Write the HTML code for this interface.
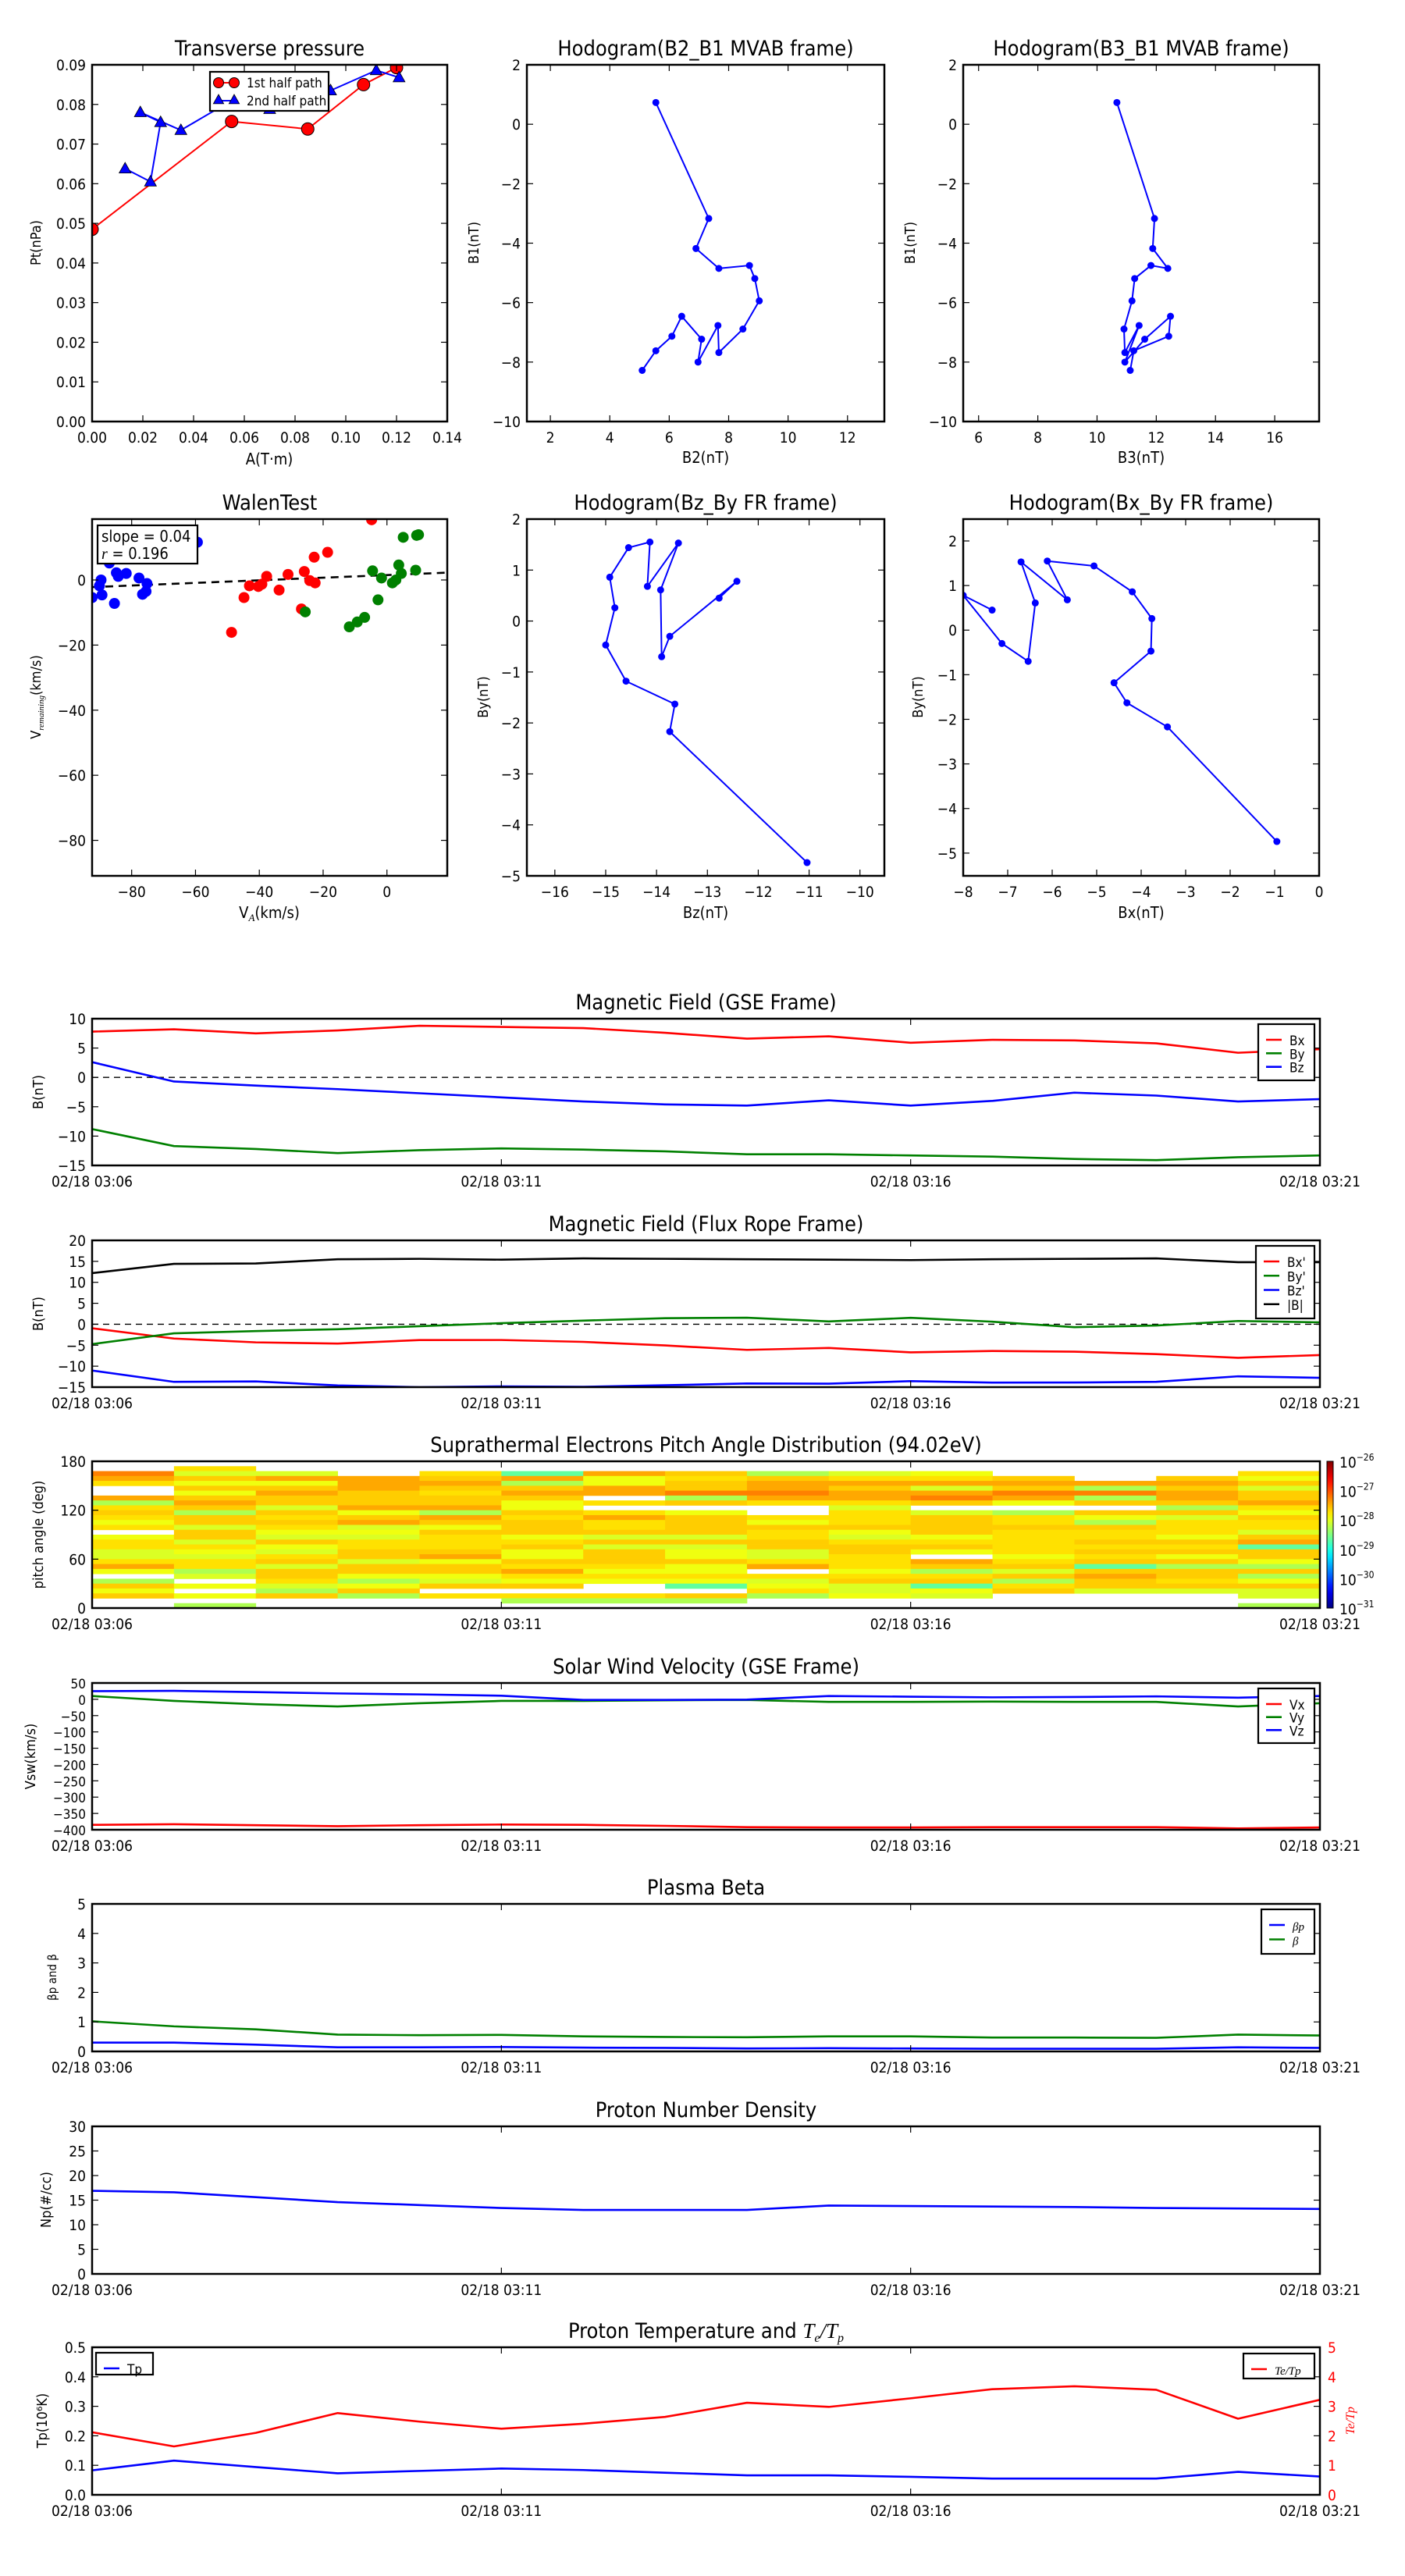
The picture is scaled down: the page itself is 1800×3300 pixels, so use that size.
<!DOCTYPE html>
<html><head><meta charset="utf-8"><title>Flux rope analysis</title>
<style>
html,body{margin:0;padding:0;background:#fff;}
svg{display:block;font-family:"Liberation Sans Narrow","DejaVu Sans Condensed","Liberation Sans",sans-serif;font-stretch:condensed;}
</style></head>
<body>
<svg id="chart" width="1800" height="3300" viewBox="0 0 1800 3300" xmlns="http://www.w3.org/2000/svg">
<rect x="0" y="0" width="1800" height="3300" fill="#fff"/>
</svg>
<script>
// ---------------- DATA ----------------
const timeMin = [0,1,2,3,4,5,6,7,8,9,10,11,12,13,14,15];
const timeTickVals = [0,5,10,15];
const timeTickLabels = ["02/18 03:06","02/18 03:11","02/18 03:16","02/18 03:21"];

const gseBx = [7.8,8.2,7.5,8.0,8.8,8.6,8.4,7.6,6.6,7.0,5.9,6.4,6.3,5.8,4.2,4.8];
const gseBy = [-8.8,-11.7,-12.2,-12.9,-12.4,-12.1,-12.3,-12.6,-13.1,-13.1,-13.3,-13.5,-13.9,-14.1,-13.6,-13.3];
const gseBz = [2.6,-0.7,-1.4,-2.0,-2.7,-3.4,-4.1,-4.6,-4.8,-3.9,-4.8,-4.0,-2.6,-3.1,-4.1,-3.7];

const frBx = [-0.95,-3.41,-4.32,-4.61,-3.78,-3.76,-4.2,-5.06,-6.11,-5.66,-6.7,-6.38,-6.54,-7.13,-8.0,-7.35];
const frBy = [-4.74,-2.17,-1.63,-1.18,-0.47,0.26,0.86,1.44,1.55,0.68,1.53,0.61,-0.7,-0.3,0.78,0.45];
const frBz = [-11.04,-13.74,-13.64,-14.6,-15.0,-14.82,-14.92,-14.55,-14.13,-14.18,-13.57,-13.92,-13.9,-13.74,-12.42,-12.77];
const frBt = [12.2,14.4,14.5,15.5,15.6,15.4,15.7,15.6,15.5,15.4,15.3,15.5,15.6,15.7,14.8,14.8];

const mvB1 = [0.73,-3.17,-4.18,-4.85,-4.75,-5.19,-5.94,-6.89,-7.68,-6.77,-8.0,-7.23,-6.46,-7.13,-7.62,-8.28];
const mvB2 = [5.55,7.33,6.9,7.67,8.7,8.88,9.03,8.48,7.67,7.64,6.97,7.09,6.42,6.09,5.55,5.09];
const mvB3 = [10.67,11.94,11.88,12.39,11.82,11.27,11.18,10.91,10.94,11.42,10.94,11.61,12.48,12.42,11.24,11.12];

const ptRedA = [0,0.055,0.085,0.107,0.12];
const ptRedP = [0.0485,0.0757,0.0738,0.085,0.0893];
const ptBlueA = [0.121,0.112,0.094,0.07,0.055,0.035,0.019,0.027,0.023,0.013];
const ptBlueP = [0.0868,0.0886,0.0835,0.0788,0.081,0.0735,0.078,0.0755,0.0605,0.0638];

const walenBlueX = [-92.4,-90.1,-89.6,-89.3,-87,-85.4,-84.8,-84.2,-81.7,-77.7,-76.6,-75.5,-75.2,-59.4];
const walenBlueY = [-5.4,-1.8,0,-4.6,5.2,-7.2,2.2,1.1,2,0.6,-4.4,-3.5,-1.1,11.6];
const walenRedX = [-4.8,-48.7,-44.8,-43.1,-40.3,-39.2,-37.7,-33.8,-31,-26.8,-25.9,-24.2,-22.8,-22.5,-18.6];
const walenRedY = [18.5,-16.1,-5.4,-1.8,-2,-1.3,1.1,-3.1,1.7,-8.9,2.6,-0.2,7,-0.9,8.5];
const walenGreenX = [-25.6,-11.8,-9.3,-7,-4.5,-2.8,-1.7,1.7,2.8,3.7,4.5,5.1,9,9.3,9.9];
const walenGreenY = [-9.8,-14.4,-12.9,-11.5,2.8,-6.1,0.6,-0.9,0,4.6,2,13.1,3,13.7,13.9];
const walenSlope = 0.04;
const walenIntercept = 1.5;

const swVx = [-385,-383,-386,-389,-386,-384,-385,-388,-392,-393,-393,-392,-392,-392,-396,-393];
const swVy = [10,-5,-15,-22,-12,-5,-5,-3,-2,-8,-8,-7,-8,-8,-22,-12];
const swVz = [25,26,22,18,15,11,-2,-2,-1,10,8,6,7,9,5,10];

const betaP = [0.30,0.30,0.23,0.14,0.14,0.15,0.13,0.12,0.10,0.11,0.10,0.09,0.09,0.09,0.14,0.12];
const betaT = [1.02,0.85,0.75,0.57,0.55,0.56,0.51,0.49,0.48,0.51,0.51,0.47,0.47,0.46,0.57,0.54];
const densNp = [16.9,16.6,15.6,14.6,14.0,13.4,13.0,13.0,13.0,13.9,13.8,13.7,13.6,13.4,13.3,13.2];
const tempTp = [0.083,0.116,0.094,0.073,0.081,0.089,0.084,0.075,0.066,0.066,0.061,0.055,0.055,0.055,0.078,0.062];
const tempRatio = [2.12,1.64,2.10,2.77,2.48,2.24,2.41,2.64,3.12,2.98,3.27,3.58,3.68,3.56,2.58,3.22];

// pitch angle distribution: log10 values, rows from 174-180 deg (top) down to 0-6 deg, 15 one-minute columns
const padLog = [
[null,null,null,null,null,null,null,null,null,null,null,null,null,null,null],
[null,-27.73,null,null,null,null,null,null,null,null,null,null,null,null,null],
[-27.25,-28.05,-28.05,null,-27.73,-28.65,-27.45,-27.63,-28.27,-28.05,-27.95,null,null,null,-27.73],
[-27.45,-27.63,-27.45,-27.45,-27.63,-27.45,-27.95,-27.73,-27.63,-27.73,-27.73,-27.63,null,-27.63,-27.95],
[-27.73,-27.95,-27.95,-27.45,-27.45,-28.27,-27.95,-27.63,-27.45,-27.45,-27.45,-27.45,-27.45,-27.45,-27.63],
[null,-27.63,-27.63,-27.45,-27.63,-27.63,-27.45,-27.63,-27.45,-27.63,-28.05,-27.63,-28.27,-27.63,-28.05],
[null,-27.95,-27.45,-27.63,-27.73,-27.45,-27.45,-27.25,-27.25,-27.45,-27.45,-27.25,-27.25,-27.45,-27.63],
[-27.45,-27.63,-27.63,-27.63,-27.63,-27.63,null,-28.27,-27.45,-27.45,-27.25,-27.45,-28.27,-27.45,-27.63],
[-28.27,-27.45,-27.63,-27.63,-27.63,-27.95,-27.73,-27.63,-27.73,-27.73,-27.63,-27.95,-27.63,-27.63,-27.45],
[-27.73,-27.63,-28.05,-27.45,-27.45,-27.95,null,null,null,-28.05,null,null,null,-28.27,-27.73],
[-27.63,-28.27,-27.63,-27.95,-28.27,-27.63,-27.73,-27.95,null,-27.73,-28.05,-28.27,-27.63,-27.63,-27.95],
[-27.73,-27.63,-27.73,-27.63,-27.45,-27.73,-27.45,-27.63,-27.73,-27.73,-27.63,-27.73,-27.95,-28.05,-27.63],
[-27.95,-27.63,-27.63,-27.45,-27.63,-27.63,-27.73,-27.63,-27.95,-27.73,-27.63,-27.73,-28.27,-27.73,-27.73],
[-27.73,-28.05,-27.73,-28.05,-27.95,-27.63,-27.73,-27.63,-27.63,-27.63,-27.63,-27.63,-27.63,-27.73,-27.73],
[null,-27.63,-27.95,-27.95,-27.63,-27.63,-27.63,-27.63,-27.73,-27.95,-27.63,-27.73,-27.73,-27.73,-28.05],
[-27.95,-27.63,-28.05,-28.05,-27.73,-27.95,-28.05,-28.05,-27.73,-28.05,-27.95,-27.73,-27.73,-27.95,-27.63],
[-27.73,-28.05,-27.63,-27.73,-27.73,-27.73,-27.63,-27.63,-27.63,-27.73,-27.73,-27.73,-27.63,-27.63,-27.45],
[-27.73,-27.73,-27.95,-27.73,-27.73,-27.63,-28.05,-28.05,-27.63,-27.63,-27.63,-27.73,-27.73,-27.73,-28.65],
[-28.05,-27.95,-28.05,-27.63,-27.63,-27.95,-27.63,-27.95,-28.05,-27.63,-27.95,-27.73,-27.63,-27.63,-27.63],
[-28.05,-28.05,-27.73,-27.63,-27.45,-27.95,-27.63,-27.95,-28.05,-27.73,null,-27.95,-27.73,-27.95,-27.63],
[-27.73,-27.73,-27.63,-28.05,-27.95,-27.63,-27.63,-27.63,-27.73,-27.73,-27.45,-27.73,-27.63,-27.63,-27.95],
[-27.45,-27.73,-28.05,-27.63,-27.63,-27.73,-27.73,-27.95,-27.45,-27.73,-27.63,-27.63,-28.65,-28.27,-28.27],
[-27.95,-28.27,-27.63,-27.63,-27.63,-27.45,-27.95,-27.95,null,-27.95,-28.27,-28.05,-27.63,-27.63,-27.63],
[null,-28.05,-27.63,-27.95,-27.95,-27.73,-27.73,-27.73,-27.73,-27.73,-27.73,-27.63,-27.45,-27.63,-28.27],
[-28.27,null,-27.73,-28.27,-28.05,-27.95,-27.95,-27.95,-28.05,-27.63,-27.63,-28.27,-27.63,-27.73,-27.95],
[-27.63,-27.95,-28.05,-27.95,-27.63,-27.63,null,-28.65,-27.95,-28.05,-28.65,-27.73,-27.63,-27.63,-27.63],
[-27.95,null,-28.27,-27.63,null,null,null,null,-27.73,-28.05,-27.95,-27.63,-28.05,-28.05,-28.05],
[-27.63,-27.95,-27.63,-28.27,-27.73,-27.73,-27.73,-27.63,-28.27,-27.95,-28.05,null,null,null,-28.05],
[null,null,null,null,null,-28.27,-28.27,-28.27,null,null,null,null,null,null,null],
[null,-28.27,null,null,null,null,null,null,null,null,null,null,null,null,-28.27]
];
const padTickVals = [0,60,120,180];
const cbarExp = [-31,-30,-29,-28,-27,-26];

// ---------------- HELPERS ----------------
const NS = 'http://www.w3.org/2000/svg';
const svg = document.getElementById('chart');
function mk(tag, attrs, parent){
  const e = document.createElementNS(NS, tag);
  for (const k in attrs) e.setAttribute(k, attrs[k]);
  (parent || svg).appendChild(e);
  return e;
}
function nm(e, name, inter){
  
  
  return e;
}
function txt(x, y, s, size, anchor, parent, extra){
  const t = mk('text', Object.assign({x:x, y:y, 'font-size':size, 'text-anchor':anchor||'middle', fill:'#000'}, extra||{}), parent);
  t.textContent = s;
  return t;
}
let clipId = 0;
function axes(name, L, R, T, B, xmin, xmax, ymin, ymax){
  const g = mk('g', {});
  nm(g, name, false);
  const sx = v => L + (v - xmin) / (xmax - xmin) * (R - L);
  const sy = v => B - (v - ymin) / (ymax - ymin) * (B - T);
  const id = 'clip' + (clipId++);
  const cp = mk('clipPath', {id:id}, g);
  mk('rect', {x:L, y:T, width:R-L, height:B-T}, cp);
  const plot = mk('g', {'clip-path':'url(#'+id+')'}, g);
  nm(plot, name + '-plot-area', false);
  return {g, plot, sx, sy, L, R, T, B};
}
function frame(a){
  const f = mk('rect', {x:a.L, y:a.T, width:a.R-a.L, height:a.B-a.T, fill:'none', stroke:'#000', 'stroke-width':2.5}, a.g);
  nm(f, 'axes-frame', false);
}
function xTicks(a, vals, labels, size){
  const g = mk('g', {}, a.g);
  nm(g, 'x-axis', false);
  vals.forEach((v, i) => {
    const x = a.sx(v);
    mk('line', {x1:x, x2:x, y1:a.B, y2:a.B-8, stroke:'#000', 'stroke-width':1.2}, g);
    mk('line', {x1:x, x2:x, y1:a.T, y2:a.T+8, stroke:'#000', 'stroke-width':1.2}, g);
    const t = txt(x, a.B + 27, labels[i], size || 19, 'middle', g);
    nm(t, 'x-tick-label', false);
  });
}
function yTicks(a, vals, labels, size, color, rightSide){
  const g = mk('g', {}, a.g);
  nm(g, rightSide ? 'right-y-axis' : 'y-axis', false);
  vals.forEach((v, i) => {
    const y = a.sy(v);
    if (!rightSide){
      mk('line', {x1:a.L, x2:a.L+8, y1:y, y2:y, stroke:'#000', 'stroke-width':1.2}, g);
      mk('line', {x1:a.R, x2:a.R-8, y1:y, y2:y, stroke:'#000', 'stroke-width':1.2}, g);
      if (labels[i] !== '') { const t = txt(a.L - 8, y + 7, labels[i], size || 19, 'end', g); nm(t, 'y-tick-label', false); }
    } else {
      const t = txt(a.R + 10, y + 7, labels[i], size || 19, 'start', g, {fill:color});
      nm(t, 'right-y-tick-label', false);
    }
  });
}
function title(a, s, name){
  const t = txt((a.L + a.R) / 2, a.T - 12, s, 27, 'middle', a.g);
  nm(t, name || 'chart-title', false);
  return t;
}
function ylabel(x, y, s, name, parent, size){
  const t = txt(x, y, s, size || 18, 'middle', parent, {transform:'rotate(-90 '+x+' '+y+')', 'font-family':'"DejaVu Sans","Liberation Sans",sans-serif'});
  nm(t, name, false);
  return t;
}
function line(a, xs, ys, color, name, w){
  const d = xs.map((x, i) => (i ? 'L' : 'M') + a.sx(x).toFixed(2) + ' ' + a.sy(ys[i]).toFixed(2)).join(' ');
  const p = mk('path', {d:d, fill:'none', stroke:color, 'stroke-width':w || 2.6, 'stroke-linejoin':'round'}, a.plot);
  nm(p, name, false);
  return p;
}
function dots(a, xs, ys, color, r, name){
  xs.forEach((x, i) => {
    const c = mk('circle', {cx:a.sx(x), cy:a.sy(ys[i]), r:r, fill:color, stroke:color === '#0000ff' && r < 6 ? 'none' : '#000', 'stroke-width': r < 6 ? 0 : 0.8}, a.plot);
    nm(c, name, false);
  });
}
function tri(a, x, y, s, color, parent){
  const cx = a ? a.sx(x) : x, cy = a ? a.sy(y) : y;
  const p = mk('polygon', {points:(cx)+','+(cy-s)+' '+(cx-s*0.95)+','+(cy+s*0.7)+' '+(cx+s*0.95)+','+(cy+s*0.7), fill:color, stroke:'#000', 'stroke-width':0.8}, parent || a.plot);
  return p;
}
function legend(x, y, w, h, items, name, parent){
  const g = mk('g', {}, parent);
  nm(g, name, false);
  const r = mk('rect', {x:x, y:y, width:w, height:h, fill:'#fff', stroke:'#000', 'stroke-width':2.2}, g);
  nm(r, name + '-box', false);
  return g;
}
function range(a, b, s){ const o = []; for (let v = a; v <= b + 1e-9; v += s) o.push(+v.toFixed(6)); return o; }

// ---------------- TOP ROW ----------------
// Transverse pressure
{
  const a = axes('transverse-pressure-chart', 118, 573, 83, 540, 0, 0.14, 0, 0.09);
  title(a, 'Transverse pressure', 'transverse-pressure-title');
  const xv = range(0, 0.14, 0.02); xTicks(a, xv, xv.map(v => v.toFixed(2)));
  const yv = range(0, 0.09, 0.01); yTicks(a, yv, yv.map(v => v.toFixed(2)));
  line(a, ptRedA, ptRedP, '#ff0000', 'first-half-path-line', 2);
  line(a, ptBlueA, ptBlueP, '#0000ff', 'second-half-path-line', 2);
  ptRedA.forEach((v, i) => { const c = mk('circle', {cx:a.sx(v), cy:a.sy(ptRedP[i]), r:8, fill:'#ff0000', stroke:'#000', 'stroke-width':1}, a.plot); nm(c, 'first-half-point', false); });
  ptBlueA.forEach((v, i) => { const p = tri(a, v, ptBlueP[i], 8, '#0000ff'); nm(p, 'second-half-point', false); });
  const lg = legend(269, 92, 152, 50, [], 'pressure-legend', a.g);
  mk('line', {x1:280, x2:300, y1:106, y2:106, stroke:'#ff0000', 'stroke-width':2}, lg);
  mk('circle', {cx:280, cy:106, r:6.5, fill:'#ff0000', stroke:'#000'}, lg);
  mk('circle', {cx:300, cy:106, r:6.5, fill:'#ff0000', stroke:'#000'}, lg);
  nm(txt(316, 112, '1st half path', 17, 'start', lg), 'legend-entry-1st-half', false);
  mk('line', {x1:280, x2:300, y1:129, y2:129, stroke:'#0000ff', 'stroke-width':2}, lg);
  tri(null, 280, 128, 7, '#0000ff', lg); tri(null, 300, 128, 7, '#0000ff', lg);
  nm(txt(316, 135, '2nd half path', 17, 'start', lg), 'legend-entry-2nd-half', false);
  frame(a);
  nm(txt(345, 595, 'A(T·m)', 20, 'middle', a.g), 'x-axis-title', false);
  ylabel(52, 311, 'Pt(nPa)', 'y-axis-title', a.g);
}
// Hodogram B2-B1
{
  const a = axes('hodogram-b2-b1-chart', 675, 1133, 83, 540, 1.21, 13.24, -10, 2);
  title(a, 'Hodogram(B2_B1 MVAB frame)', 'hodogram-b2-b1-title');
  const xv = range(2, 12, 2); xTicks(a, xv, xv.map(String));
  const yv = range(-10, 2, 2); yTicks(a, yv, yv.map(v => v < 0 ? '\u2212' + (-v) : String(v)));
  line(a, mvB2, mvB1, '#0000ff', 'hodogram-b2-b1-line', 2);
  dots(a, mvB2, mvB1, '#0000ff', 4.5, 'hodogram-b2-b1-point');
  frame(a);
  nm(txt(904, 593, 'B2(nT)', 20, 'middle', a.g), 'x-axis-title', false);
  ylabel(613, 311, 'B1(nT)', 'y-axis-title', a.g);
}
// Hodogram B3-B1
{
  const a = axes('hodogram-b3-b1-chart', 1234, 1690, 83, 540, 5.48, 17.5, -10, 2);
  title(a, 'Hodogram(B3_B1 MVAB frame)', 'hodogram-b3-b1-title');
  const xv = range(6, 16, 2); xTicks(a, xv, xv.map(String));
  const yv = range(-10, 2, 2); yTicks(a, yv, yv.map(v => v < 0 ? '\u2212' + (-v) : String(v)));
  line(a, mvB3, mvB1, '#0000ff', 'hodogram-b3-b1-line', 2);
  dots(a, mvB3, mvB1, '#0000ff', 4.5, 'hodogram-b3-b1-point');
  frame(a);
  nm(txt(1462, 593, 'B3(nT)', 20, 'middle', a.g), 'x-axis-title', false);
  ylabel(1172, 311, 'B1(nT)', 'y-axis-title', a.g);
}
// ---------------- SECOND ROW ----------------
// Walen test
{
  const a = axes('walen-test-chart', 118, 573, 665, 1122, -92.4, 18.9, -90.9, 18.7);
  title(a, 'WalenTest', 'walen-test-title');
  const xv = range(-80, 0, 20); xTicks(a, xv, xv.map(v => v < 0 ? '\u2212' + (-v) : String(v)));
  const yv = range(-80, 0, 20); yTicks(a, yv, yv.map(v => v < 0 ? '\u2212' + (-v) : String(v)));
  const fx = [-92.4, 18.9];
  const fl = mk('line', {x1:a.sx(fx[0]), y1:a.sy(walenSlope*fx[0]+walenIntercept), x2:a.sx(fx[1]), y2:a.sy(walenSlope*fx[1]+walenIntercept), stroke:'#000', 'stroke-width':2.6, 'stroke-dasharray':'10,7'}, a.plot);
  nm(fl, 'regression-line', false);
  const pts = (xs, ys, c, n) => xs.forEach((x, i) => { const e = mk('circle', {cx:a.sx(x), cy:a.sy(ys[i]), r:7, fill:c, stroke:'none'}, a.plot); nm(e, n, false); });
  pts(walenBlueX, walenBlueY, '#0000ff', 'walen-point-blue');
  pts(walenRedX, walenRedY, '#ff0000', 'walen-point-red');
  pts(walenGreenX, walenGreenY, '#008000', 'walen-point-green');
  const lg = legend(125, 673, 128, 49, [], 'walen-stats-box', a.g);
  nm(txt(130, 694, 'slope = 0.04', 20, 'start', lg), 'slope-text', false);
  const rt = txt(130, 716, '', 20, 'start', lg); nm(rt, 'correlation-text', false);
  const ri = mk('tspan', {'font-style':'italic', 'font-family':'"Liberation Serif",serif'}, rt); ri.textContent = 'r';
  const rr = mk('tspan', {}, rt); rr.textContent = ' = 0.196';
  frame(a);
  const xl = txt(345, 1176, 'V', 20, 'middle', a.g); nm(xl, 'x-axis-title', false);
  const s1 = mk('tspan', {'font-size':13, dy:4, 'font-style':'italic', 'font-family':'"Liberation Serif",serif'}, xl); s1.textContent = 'A';
  const s2 = mk('tspan', {dy:-4}, xl); s2.textContent = '(km/s)';
  const yl = ylabel(52, 893, '', 'y-axis-title', a.g);
  const y1 = mk('tspan', {}, yl); y1.textContent = 'V';
  const y2 = mk('tspan', {'font-size':11, dy:4, 'font-style':'italic', 'font-family':'"Liberation Serif",serif'}, yl); y2.textContent = 'remaining';
  const y3 = mk('tspan', {dy:-4}, yl); y3.textContent = '(km/s)';
}
// Hodogram Bz-By FR
{
  const a = axes('hodogram-bz-by-chart', 675, 1133, 665, 1122, -16.55, -9.52, -5, 2);
  title(a, 'Hodogram(Bz_By FR frame)', 'hodogram-bz-by-title');
  const xv = range(-16, -10, 1); xTicks(a, xv, xv.map(v => '\u2212' + (-v)));
  const yv = range(-5, 2, 1); yTicks(a, yv, yv.map(v => v < 0 ? '\u2212' + (-v) : String(v)));
  line(a, frBz, frBy, '#0000ff', 'hodogram-bz-by-line', 2);
  dots(a, frBz, frBy, '#0000ff', 4.5, 'hodogram-bz-by-point');
  frame(a);
  nm(txt(904, 1176, 'Bz(nT)', 20, 'middle', a.g), 'x-axis-title', false);
  ylabel(625, 893, 'By(nT)', 'y-axis-title', a.g);
}
// Hodogram Bx-By FR
{
  const a = axes('hodogram-bx-by-chart', 1234, 1690, 665, 1122, -8, 0, -5.51, 2.49);
  title(a, 'Hodogram(Bx_By FR frame)', 'hodogram-bx-by-title');
  const xv = range(-8, 0, 1); xTicks(a, xv, xv.map(v => v < 0 ? '\u2212' + (-v) : String(v)));
  const yv = range(-5, 2, 1); yTicks(a, yv, yv.map(v => v < 0 ? '\u2212' + (-v) : String(v)));
  line(a, frBx, frBy, '#0000ff', 'hodogram-bx-by-line', 2);
  dots(a, frBx, frBy, '#0000ff', 4.5, 'hodogram-bx-by-point');
  frame(a);
  nm(txt(1462, 1176, 'Bx(nT)', 20, 'middle', a.g), 'x-axis-title', false);
  ylabel(1182, 893, 'By(nT)', 'y-axis-title', a.g);
}

// ---------------- TIME SERIES ----------------
const TL = 118, TR = 1691;
const minusLbl = v => v < 0 ? '\u2212' + (-v) : String(v);
function tsLegend(a, x, y, w, h, items, name){
  const lg = legend(x, y, w, h, [], name, a.g);
  items.forEach((it, i) => {
    const yy = y + 20 + i * (h - 20) / items.length;
    mk('line', {x1:x + 10, x2:x + 30, y1:yy, y2:yy, stroke:it[1], 'stroke-width':2.6}, lg);
    const t = txt(x + 40, yy + 7, it[0], 17, 'start', lg, it[2] ? {'font-style':'italic', 'font-family':'"Liberation Serif",serif', 'font-size':15} : {});
    nm(t, 'legend-entry', false);
  });
  return lg;
}
function zeroLine(a){
  const z = mk('line', {x1:a.L, x2:a.R, y1:a.sy(0), y2:a.sy(0), stroke:'#000', 'stroke-width':1.3, 'stroke-dasharray':'8,6'}, a.plot);
  nm(z, 'zero-reference-line', false);
}
// GSE
{
  const a = axes('magnetic-field-gse-chart', TL, TR, 1305, 1493, 0, 15, -15, 10);
  title(a, 'Magnetic Field (GSE Frame)', 'magnetic-field-gse-title');
  xTicks(a, timeTickVals, timeTickLabels);
  const yv = range(-15, 10, 5); yTicks(a, yv, yv.map(minusLbl));
  zeroLine(a);
  line(a, timeMin, gseBx, '#ff0000', 'bx-line');
  line(a, timeMin, gseBy, '#008000', 'by-line');
  line(a, timeMin, gseBz, '#0000ff', 'bz-line');
  tsLegend(a, 1612, 1312, 72, 72, [['Bx','#ff0000'],['By','#008000'],['Bz','#0000ff']], 'gse-legend');
  frame(a);
  ylabel(55, 1399, 'B(nT)', 'y-axis-title', a.g);
}
// Flux rope
{
  const a = axes('magnetic-field-flux-rope-chart', TL, TR, 1589, 1777, 0, 15, -15, 20);
  title(a, 'Magnetic Field (Flux Rope Frame)', 'magnetic-field-flux-rope-title');
  xTicks(a, timeTickVals, timeTickLabels);
  const yv = range(-15, 20, 5); yTicks(a, yv, yv.map(minusLbl));
  zeroLine(a);
  line(a, timeMin, frBx, '#ff0000', 'bx-prime-line');
  line(a, timeMin, frBy, '#008000', 'by-prime-line');
  line(a, timeMin, frBz, '#0000ff', 'bz-prime-line');
  line(a, timeMin, frBt, '#000000', 'b-total-line');
  tsLegend(a, 1609, 1596, 75, 93, [["Bx'",'#ff0000'],["By'",'#008000'],["Bz'",'#0000ff'],['|B|','#000000']], 'flux-rope-legend');
  frame(a);
  ylabel(55, 1683, 'B(nT)', 'y-axis-title', a.g);
}
// PAD heatmap
function jet(t){
  const c = v => Math.max(0, Math.min(1, v));
  const r = c(1.5 - Math.abs(4 * t - 3)), g = c(1.5 - Math.abs(4 * t - 2)), b = c(1.5 - Math.abs(4 * t - 1));
  return 'rgb(' + Math.round(r * 255) + ',' + Math.round(g * 255) + ',' + Math.round(b * 255) + ')';
}
{
  const a = axes('pitch-angle-distribution-chart', TL, TR, 1872, 2060, 0, 15, 0, 180);
  title(a, 'Suprathermal Electrons Pitch Angle Distribution (94.02eV)', 'pitch-angle-title');
  const nRows = padLog.length, bin = 180 / nRows;
  padLog.forEach((row, r) => {
    const hi = 180 - r * bin, lo = hi - bin;
    row.forEach((v, c) => {
      if (v === null) return;
      const t = (v + 31) / 5;
      const x0 = a.sx(c), x1 = a.sx(c + 1), y0 = a.sy(hi), y1 = a.sy(lo);
      const cell = mk('rect', {x:x0, y:y0, width:x1 - x0 + 0.4, height:y1 - y0 + 0.4, fill:jet(t)}, a.plot);
      nm(cell, 'heatmap-cell', false);
    });
  });
  xTicks(a, timeTickVals, timeTickLabels);
  yTicks(a, padTickVals, padTickVals.map(String));
  frame(a);
  ylabel(55, 1966, 'pitch angle (deg)', 'y-axis-title', a.g);
  // colorbar
  const cb = mk('g', {}); nm(cb, 'colorbar', false);
  const defs = mk('defs', {}, cb);
  const lg = mk('linearGradient', {id:'jetgrad', x1:0, y1:1, x2:0, y2:0}, defs);
  for (let i = 0; i <= 20; i++){ mk('stop', {offset:(i / 20), 'stop-color':jet(i / 20)}, lg); }
  const cbr = mk('rect', {x:1700, y:1872, width:8, height:188, fill:'url(#jetgrad)', stroke:'#000', 'stroke-width':1}, cb);
  nm(cbr, 'colorbar-gradient', false);
  cbarExp.forEach(e => {
    const y = 2060 - (e + 31) / 5 * 188;
    const t = txt(1716, y + 8, '10', 19, 'start', cb); nm(t, 'colorbar-tick-label', false);
    const sp = mk('tspan', {'font-size':12, dy:-9}, t); sp.textContent = '\u2212' + (-e);
  });
}
// Solar wind
{
  const a = axes('solar-wind-velocity-chart', TL, TR, 2156, 2344, 0, 15, -400, 50);
  title(a, 'Solar Wind Velocity (GSE Frame)', 'solar-wind-velocity-title');
  xTicks(a, timeTickVals, timeTickLabels);
  const yv = range(-400, 50, 50); yTicks(a, yv, yv.map(minusLbl), 17);
  line(a, timeMin, swVx, '#ff0000', 'vx-line');
  line(a, timeMin, swVy, '#008000', 'vy-line');
  line(a, timeMin, swVz, '#0000ff', 'vz-line');
  tsLegend(a, 1612, 2163, 72, 70, [['Vx','#ff0000'],['Vy','#008000'],['Vz','#0000ff']], 'solar-wind-legend');
  frame(a);
  ylabel(45, 2250, 'Vsw(km/s)', 'y-axis-title', a.g);
}
// Plasma beta
{
  const a = axes('plasma-beta-chart', TL, TR, 2439, 2628, 0, 15, 0, 5);
  title(a, 'Plasma Beta', 'plasma-beta-title');
  xTicks(a, timeTickVals, timeTickLabels);
  const yv = range(0, 5, 1); yTicks(a, yv, yv.map(String));
  line(a, timeMin, betaP, '#0000ff', 'beta-p-line');
  line(a, timeMin, betaT, '#008000', 'beta-line');
  tsLegend(a, 1616, 2446, 68, 57, [['\u03b2p','#0000ff',1],['\u03b2','#008000',1]], 'plasma-beta-legend');
  frame(a);
  ylabel(72, 2533, '\u03b2p and \u03b2', 'y-axis-title', a.g, 15);
}
// Density
{
  const a = axes('proton-density-chart', TL, TR, 2724, 2913, 0, 15, 0, 30);
  title(a, 'Proton Number Density', 'proton-density-title');
  xTicks(a, timeTickVals, timeTickLabels);
  const yv = range(0, 30, 5); yTicks(a, yv, yv.map(String));
  line(a, timeMin, densNp, '#0000ff', 'density-line');
  frame(a);
  ylabel(65, 2818, 'Np(#/cc)', 'y-axis-title', a.g);
}
// Temperature
{
  const a = axes('proton-temperature-chart', TL, TR, 3007, 3196, 0, 15, 0, 0.5);
  const tt = title(a, 'Proton Temperature and ', 'proton-temperature-title');
  const ti = mk('tspan', {'font-style':'italic', 'font-family':'"Liberation Serif",serif'}, tt); ti.textContent = 'T';
  const ts = mk('tspan', {'font-size':16, dy:5, 'font-style':'italic', 'font-family':'"Liberation Serif",serif'}, tt); ts.textContent = 'e';
  const ti2 = mk('tspan', {dy:-5, 'font-style':'italic', 'font-family':'"Liberation Serif",serif'}, tt); ti2.textContent = '/T';
  const ts2 = mk('tspan', {'font-size':16, dy:5, 'font-style':'italic', 'font-family':'"Liberation Serif",serif'}, tt); ts2.textContent = 'p';
  xTicks(a, timeTickVals, timeTickLabels);
  const yv = range(0, 0.5, 0.1); yTicks(a, yv, yv.map(v => v.toFixed(1)));
  line(a, timeMin, tempTp, '#0000ff', 'tp-line');
  // right axis for Te/Tp
  const ra = {L:a.L, R:a.R, T:a.T, B:a.B, g:a.g, plot:a.plot, sx:a.sx, sy:v => a.B - v / 5 * (a.B - a.T)};
  line(ra, timeMin, tempRatio, '#ff0000', 'te-tp-ratio-line');
  yTicks(ra, range(0, 5, 1), range(0, 5, 1).map(String), 19, '#ff0000', true);
  tsLegend(a, 123, 3014, 73, 28, [['Tp','#0000ff']], 'tp-legend');
  tsLegend(a, 1593, 3015, 91, 32, [['Te/Tp','#ff0000',1]], 'te-tp-legend');
  frame(a);
  ylabel(60, 3101, 'Tp(10\u2076K)', 'y-axis-title', a.g);
  const rl = txt(1735, 3101, 'Te/Tp', 16, 'middle', a.g, {transform:'rotate(-90 1735 3101)', fill:'#ff0000', 'font-style':'italic', 'font-family':'"Liberation Serif",serif'});
  nm(rl, 'right-y-axis-title', false);
}
</script>
</body></html>
